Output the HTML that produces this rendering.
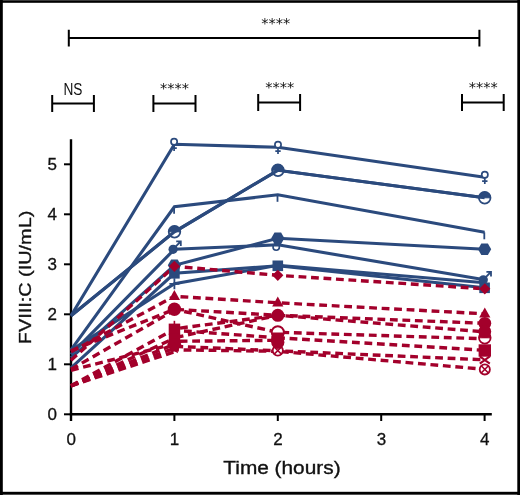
<!DOCTYPE html>
<html lang="en">
<head>
<meta charset="utf-8">
<title>FVIII:C over time</title>
<style>
html,body{margin:0;padding:0;background:#fff;}
body{width:520px;height:495px;overflow:hidden;font-family:"Liberation Sans",sans-serif;}
svg{display:block;}
text{filter:grayscale(1);}
</style>
</head>
<body>
<svg width="520" height="495" viewBox="0 0 520 495">
<rect x="0" y="0" width="520" height="495" fill="#fff"/>
<g stroke="#000" stroke-width="2.4" fill="none" stroke-linecap="butt">
<line x1="71" y1="139.2" x2="71" y2="421"/>
<line x1="69.8" y1="414.2" x2="491.8" y2="414.2"/>
</g>
<g stroke="#000" stroke-width="2" fill="none">
<line x1="64" y1="414.3" x2="71" y2="414.3"/>
<line x1="64" y1="364.3" x2="71" y2="364.3"/>
<line x1="64" y1="314.3" x2="71" y2="314.3"/>
<line x1="64" y1="264.3" x2="71" y2="264.3"/>
<line x1="64" y1="214.3" x2="71" y2="214.3"/>
<line x1="64" y1="164.3" x2="71" y2="164.3"/>
<line x1="174.4" y1="414" x2="174.4" y2="421"/>
<line x1="277.8" y1="414" x2="277.8" y2="421"/>
<line x1="381.2" y1="414" x2="381.2" y2="421"/>
<line x1="484.6" y1="414" x2="484.6" y2="421"/>
</g>
<g font-family="'Liberation Sans', sans-serif" font-size="17" fill="#111" stroke="#111" stroke-width="0.3">
<text x="52.2" y="420.1" text-anchor="middle">0</text>
<text x="52.2" y="370.1" text-anchor="middle">1</text>
<text x="52.2" y="320.1" text-anchor="middle">2</text>
<text x="52.2" y="270.1" text-anchor="middle">3</text>
<text x="52.2" y="220.1" text-anchor="middle">4</text>
<text x="52.2" y="170.1" text-anchor="middle">5</text>
<text x="71.2" y="444.8" text-anchor="middle">0</text>
<text x="174.6" y="444.8" text-anchor="middle">1</text>
<text x="278.0" y="444.8" text-anchor="middle">2</text>
<text x="381.4" y="444.8" text-anchor="middle">3</text>
<text x="484.8" y="444.8" text-anchor="middle">4</text>
</g>
<g font-family="'Liberation Sans', sans-serif" fill="#111" stroke="#111" stroke-width="0.35">
<text x="223.3" y="474.3" font-size="18" textLength="117.3" lengthAdjust="spacingAndGlyphs">Time (hours)</text>
<text transform="translate(31,344.2) rotate(-90)" font-size="17.3" textLength="133.5" lengthAdjust="spacingAndGlyphs">FVIII:C (IU/mL)</text>
</g>
<g stroke="#000" stroke-width="2" fill="none">
<path d="M68.8 29.700000000000003V46.5M68.8 38.1H479.4M479.4 29.700000000000003V46.5"/>
<path d="M52.2 95.0V112.0M52.2 103.5H93.9M93.9 95.0V112.0"/>
<path d="M153.4 95.0V112.0M153.4 103.5H195.5M195.5 95.0V112.0"/>
<path d="M258.2 94.0V111.0M258.2 102.5H300.1M300.1 94.0V111.0"/>
<path d="M462 94.0V111.0M462 102.5H503.7M503.7 94.0V111.0"/>
</g>
<g font-family="'Liberation Sans', sans-serif" fill="#111" text-anchor="middle">
<text x="73" y="94.8" font-size="16" textLength="19" lengthAdjust="spacingAndGlyphs">NS</text>
<text x="275.7" y="27.5" font-family="'DejaVu Sans', 'Liberation Sans', sans-serif" font-size="14.5" textLength="29" lengthAdjust="spacing">****</text>
<text x="174.6" y="93" font-family="'DejaVu Sans', 'Liberation Sans', sans-serif" font-size="14.5" textLength="29" lengthAdjust="spacing">****</text>
<text x="279.7" y="92" font-family="'DejaVu Sans', 'Liberation Sans', sans-serif" font-size="14.5" textLength="29" lengthAdjust="spacing">****</text>
<text x="483.3" y="92" font-family="'DejaVu Sans', 'Liberation Sans', sans-serif" font-size="14.5" textLength="29" lengthAdjust="spacing">****</text>
</g>
<circle cx="276.2" cy="247" r="3.2" fill="#fff" stroke="#2b4a7d" stroke-width="1.6"/>
<g stroke="#2b4a7d" stroke-width="3.1" fill="none" stroke-linejoin="miter" stroke-linecap="butt">
<polyline points="71.0,315.8 174.4,144.3 277.8,147.3 484.6,177.3"/>
<polyline points="71.0,349.8 174.4,206.8 277.8,194.8 484.6,232.3"/>
<polyline points="71.0,315.8 174.4,231.8 277.8,170.3 484.6,197.8"/>
<polyline points="71.0,354.3 174.4,249.3 277.8,244.8 484.6,279.8"/>
<polyline points="71.0,357.8 174.4,265.3 277.8,238.3 484.6,249.3"/>
<polyline points="71.0,367.8 174.4,273.3 277.8,265.8 484.6,287.8"/>
<polyline points="71.0,350.3 174.4,283.8 277.8,265.3 484.6,282.8"/>
</g>
<g stroke="#a3002b" stroke-width="3.4" fill="none" stroke-dasharray="7.8 4.7" stroke-linejoin="round">
<path d="M71.0 360.3L174.4 266.3" stroke-dashoffset="0.0"/>
<path d="M71.0 351.8L174.4 296.3" stroke-dashoffset="0.0"/>
<path d="M71.0 350.8L174.4 309.3" stroke-dashoffset="0.0"/>
<path d="M71.0 369.3L174.4 310.3" stroke-dashoffset="0.0"/>
<path d="M71.0 370.3L174.4 343.8" stroke-dashoffset="0.0"/>
<path d="M71.0 385.8L174.4 329.3" stroke-dashoffset="0.0"/>
<path d="M71.0 385.8L174.4 338.3" stroke-dashoffset="0.0"/>
<path d="M71.0 385.8L174.4 344.3" stroke-dashoffset="0.0"/>
<path d="M71.0 385.8L174.4 348.3" stroke-dashoffset="0.0"/>
<path d="M71.0 385.8L174.4 351.8" stroke-dashoffset="0.0"/>
<path d="M174.4 266.3L277.8 275.3" stroke-dashoffset="2.1"/>
<path d="M174.4 296.3L277.8 302.8" stroke-dashoffset="6.4"/>
<path d="M174.4 309.3L277.8 315.3" stroke-dashoffset="10.7"/>
<path d="M174.4 309.3L277.8 332.3" stroke-dashoffset="2.5"/>
<path d="M174.4 328.8L277.8 315.3" stroke-dashoffset="6.8"/>
<path d="M174.4 337.8L277.8 315.3" stroke-dashoffset="11.1"/>
<path d="M174.4 330.3L277.8 337.8" stroke-dashoffset="2.9"/>
<path d="M174.4 341.3L277.8 340.3" stroke-dashoffset="7.2"/>
<path d="M174.4 346.3L277.8 350.8" stroke-dashoffset="11.5"/>
<path d="M174.4 349.8L277.8 351.3" stroke-dashoffset="3.3"/>
<path d="M277.8 275.3L484.6 288.8" stroke-dashoffset="4.2"/>
<path d="M277.8 302.8L484.6 313.8" stroke-dashoffset="8.5"/>
<path d="M277.8 315.3L484.6 323.3" stroke-dashoffset="0.3"/>
<path d="M277.8 315.3L484.6 331.8" stroke-dashoffset="4.6"/>
<path d="M277.8 332.3L484.6 338.8" stroke-dashoffset="8.9"/>
<path d="M277.8 337.8L484.6 350.3" stroke-dashoffset="0.7"/>
<path d="M277.8 350.8L484.6 359.8" stroke-dashoffset="5.0"/>
<path d="M277.8 351.3L484.6 369.3" stroke-dashoffset="9.3"/>
</g>
<g stroke="#2b4a7d" stroke-width="1.7" fill="#fff"><circle cx="174.1" cy="141.7" r="3.1"/><path d="M174.1 144.9V151.1M171.4 148.2H176.8" fill="none"/></g>
<g stroke="#2b4a7d" stroke-width="1.7" fill="#fff"><circle cx="278.0" cy="144.7" r="3.1"/><path d="M278.0 147.9V154.1M275.3 151.2H280.7" fill="none"/></g>
<g stroke="#2b4a7d" stroke-width="1.7" fill="#fff"><circle cx="484.8" cy="174.7" r="3.1"/><path d="M484.8 177.9V184.1M482.1 181.2H487.5" fill="none"/></g>
<path d="M174.1 206.8V213.8" stroke="#2b4a7d" stroke-width="1.8" fill="none"/>
<path d="M277.5 194.8V201.8" stroke="#2b4a7d" stroke-width="1.8" fill="none"/>
<path d="M484.3 232.3V239.3" stroke="#2b4a7d" stroke-width="1.8" fill="none"/>
<circle cx="174.5" cy="231.8" r="5.8" fill="#fff" stroke="#2b4a7d" stroke-width="1.8"/>
<path d="M168.7 231.8A5.8 5.8 0 0 1 180.3 231.8Z" fill="#2b4a7d" stroke="#2b4a7d" stroke-width="1"/>
<circle cx="277.9" cy="170.3" r="5.8" fill="#fff" stroke="#2b4a7d" stroke-width="1.8"/>
<path d="M272.1 170.3A5.8 5.8 0 0 1 283.7 170.3Z" fill="#2b4a7d" stroke="#2b4a7d" stroke-width="1"/>
<circle cx="484.7" cy="197.8" r="5.8" fill="#fff" stroke="#2b4a7d" stroke-width="1.8"/>
<path d="M478.9 197.8A5.8 5.8 0 0 1 490.5 197.8Z" fill="#2b4a7d" stroke="#2b4a7d" stroke-width="1"/>
<polyline points="71.0,315.8 174.4,231.8 277.8,170.3 484.6,197.8" stroke="#2b4a7d" stroke-width="3.1" fill="none"/>
<circle cx="173.1" cy="249.3" r="4.6" fill="#2b4a7d"/>
<path d="M175.4 246.8L180.6 241.5M176.2 241.3H180.8V246.1" stroke="#2b4a7d" stroke-width="1.8" fill="none"/>
<circle cx="483.3" cy="279.8" r="4.6" fill="#2b4a7d"/>
<path d="M485.6 277.3L490.8 272.0M486.4 271.8H491.0V276.6" stroke="#2b4a7d" stroke-width="1.8" fill="none"/>
<path d="M174.4 278.3V289.3M169.4 283.8H179.4" stroke="#2b4a7d" stroke-width="1.8" fill="none"/>
<rect x="169.1" y="268.0" width="10.6" height="10.6" fill="#2b4a7d"/>
<rect x="272.5" y="260.5" width="10.6" height="10.6" fill="#2b4a7d"/>
<rect x="479.3" y="282.5" width="10.6" height="10.6" fill="#2b4a7d"/>
<polygon points="181.0,265.3 177.7,271.0 171.1,271.0 167.8,265.3 171.1,259.6 177.7,259.6" fill="#2b4a7d"/>
<polygon points="284.4,238.3 281.1,244.0 274.5,244.0 271.2,238.3 274.5,232.6 281.1,232.6" fill="#2b4a7d"/>
<polygon points="491.2,249.3 487.9,255.0 481.3,255.0 478.0,249.3 481.3,243.6 487.9,243.6" fill="#2b4a7d"/>
<polygon points="174.4,260.7 180.0,266.3 174.4,271.9 168.8,266.3" fill="#a3002b"/>
<polygon points="174.4,290.0 180.0,300.0 168.8,300.0" fill="#a3002b"/>
<circle cx="174.4" cy="309.3" r="6.7" fill="#a3002b"/>
<path d="M174.4 320.8V325.3" stroke="#a3002b" stroke-width="1.6" fill="none"/>
<rect x="168.7" y="323.6" width="11.5" height="11.5" fill="#a3002b"/>
<rect x="168.8" y="333.7" width="11.3" height="11.3" fill="#a3002b"/>
<polygon points="181.4,344.3 177.9,350.4 170.9,350.4 167.4,344.3 170.9,338.2 177.9,338.2" fill="#a3002b"/>
<polygon points="174.4,342.1 176.2,345.9 180.3,346.4 177.3,349.2 178.0,353.3 174.4,351.3 170.8,353.3 171.5,349.2 168.5,346.4 172.6,345.9" fill="#a3002b"/>
<polygon points="277.8,269.7 283.4,275.3 277.8,280.9 272.2,275.3" fill="#a3002b"/>
<polygon points="277.8,296.5 283.4,306.5 272.2,306.5" fill="#a3002b"/>
<circle cx="277.8" cy="315.3" r="6.5" fill="#a3002b"/>
<circle cx="277.8" cy="332.3" r="6.1" fill="#fff" stroke="#a3002b" stroke-width="1.9"/>
<rect x="272.0" y="332.5" width="11.6" height="11.6" fill="#a3002b"/>
<circle cx="277.8" cy="350.6" r="5.1" fill="#fff" stroke="#a3002b" stroke-width="1.8"/>
<path d="M274.2 347.0L281.4 354.1M281.4 347.0L274.2 354.1" stroke="#a3002b" stroke-width="1.6" fill="none"/>
<circle cx="277.8" cy="342.3" r="6.6" fill="#a3002b"/>
<polygon points="484.8,283.2 490.4,288.8 484.8,294.4 479.2,288.8" fill="#a3002b"/>
<polygon points="484.8,307.5 490.4,317.5 479.2,317.5" fill="#a3002b"/>
<circle cx="484.8" cy="337.8" r="5.8" fill="#fff" stroke="#a3002b" stroke-width="1.8"/>
<path d="M479.0 337.8A5.8 5.8 0 0 1 490.6 337.8Z" fill="#a3002b" stroke="#a3002b" stroke-width="1"/>
<circle cx="484.8" cy="323.3" r="6.4" fill="#a3002b"/>
<circle cx="484.8" cy="331.6" r="6.4" fill="#a3002b"/>
<rect x="478.6" y="344.3" width="12.4" height="12.4" fill="#a3002b"/>
<path d="M479.8 356.4L489.8 363.6M489.8 356.4L479.8 363.6" stroke="#a3002b" stroke-width="2.1" fill="none"/>
<circle cx="484.8" cy="369.4" r="5.1" fill="#fff" stroke="#a3002b" stroke-width="1.8"/>
<path d="M481.2 365.8L488.4 373.0M488.4 365.8L481.2 373.0" stroke="#a3002b" stroke-width="1.6" fill="none"/>
<rect x="0" y="0" width="520" height="2.8" fill="#000"/>
<rect x="0" y="0" width="520" height="0.7" fill="#555"/>
<rect x="0" y="491.8" width="520" height="3.2" fill="#000"/>
<rect x="0" y="494.2" width="520" height="0.8" fill="#666"/>
<rect x="0" y="0" width="2.8" height="495" fill="#000"/>
<rect x="517.3" y="0" width="2.7" height="495" fill="#000"/>
</svg>
</body>
</html>
